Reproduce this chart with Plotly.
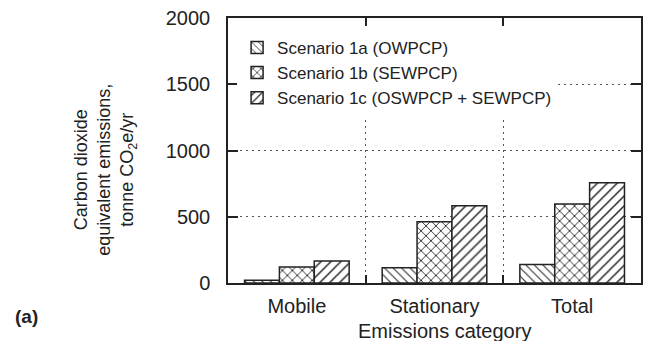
import plotly.graph_objects as go

categories = ["Mobile", "Stationary", "Total"]
series_names = ["Scenario 1a (OWPCP)", "Scenario 1b (SEWPCP)", "Scenario 1c (OSWPCP + SEWPCP)"]
scenario_1a = [20, 115, 140]
scenario_1b = [120, 463, 596]
scenario_1c = [166, 583, 757]
y_ticks = [0, 500, 1000, 1500, 2000]

patterns = ["\\", "x", "/"]
pattern_sizes = [6, 7, 7]
pattern_solidity = [0.18, 0.25, 0.22]
FONT = "Liberation Sans, Arial, sans-serif"
TXT = "#222"
positions = list(range(len(categories)))
boundaries = [p + 0.5 for p in positions[:-1]]

fig = go.Figure()
for name, vals, pat, sz, sol in zip(series_names, [scenario_1a, scenario_1b, scenario_1c],
                                    patterns, pattern_sizes, pattern_solidity):
    fig.add_trace(go.Bar(
        x=positions, y=vals, name=name,
        marker=dict(color="white", line=dict(color="#222", width=1.5),
                    pattern=dict(shape=pat, fgcolor="#2a2a2a", bgcolor="white",
                                 size=sz, solidity=sol, fillmode="replace")),
    ))

grid = dict(gridcolor="#555", griddash="2px,4px", gridwidth=1.3)
fig.update_layout(
    width=645, height=341,
    margin=dict(l=228, r=2, t=18, b=58),
    paper_bgcolor="white", plot_bgcolor="white",
    barmode="group", bargap=0.24, bargroupgap=0,
    font=dict(family=FONT, size=20, color=TXT),
    showlegend=True,
    legend=dict(x=0.022, y=0.955, xanchor="left", yanchor="top",
                bgcolor="white", borderwidth=0,
                font=dict(size=17, color=TXT), tracegroupgap=0),
    xaxis=dict(range=[-0.5, 2.5], tickvals=positions, ticktext=categories, ticks="",
               showline=True, linecolor="#222", linewidth=1.5, mirror="ticks",
               showgrid=False, zeroline=False,
               minor=dict(tickvals=boundaries, ticks="inside", ticklen=8,
                          tickcolor="#222", tickwidth=1.5, showgrid=True, **grid),
               ticklabelstandoff=4, tickfont=dict(size=20, color=TXT)),
    yaxis=dict(range=[0, 2000], tickvals=y_ticks, ticks="inside", ticklen=10,
               tickcolor="#222", tickwidth=1.5,
               showline=True, linecolor="#222", linewidth=1.5, mirror="ticks",
               showgrid=True, **grid,
               zeroline=False, ticklabelstandoff=12, tickfont=dict(size=20, color=TXT)),
    annotations=[
        dict(text="Carbon dioxide<br>equivalent emissions,<br>tonne CO<sub>2</sub>e/yr",
             xref="paper", yref="paper", x=-0.296, y=0.426, xanchor="center", yanchor="middle",
             textangle=-90, showarrow=False, font=dict(size=18, color=TXT)),
        dict(text="Emissions category", xref="paper", yref="paper", x=0.525, y=-0.181,
             xanchor="center", yanchor="middle", showarrow=False, font=dict(size=20, color=TXT)),
        dict(text="<b>(a)</b>", xref="paper", yref="paper", x=-0.489, y=-0.125,
             xanchor="center", yanchor="middle", showarrow=False, font=dict(size=19, color=TXT)),
    ],
)

fig.write_html("out.html")
